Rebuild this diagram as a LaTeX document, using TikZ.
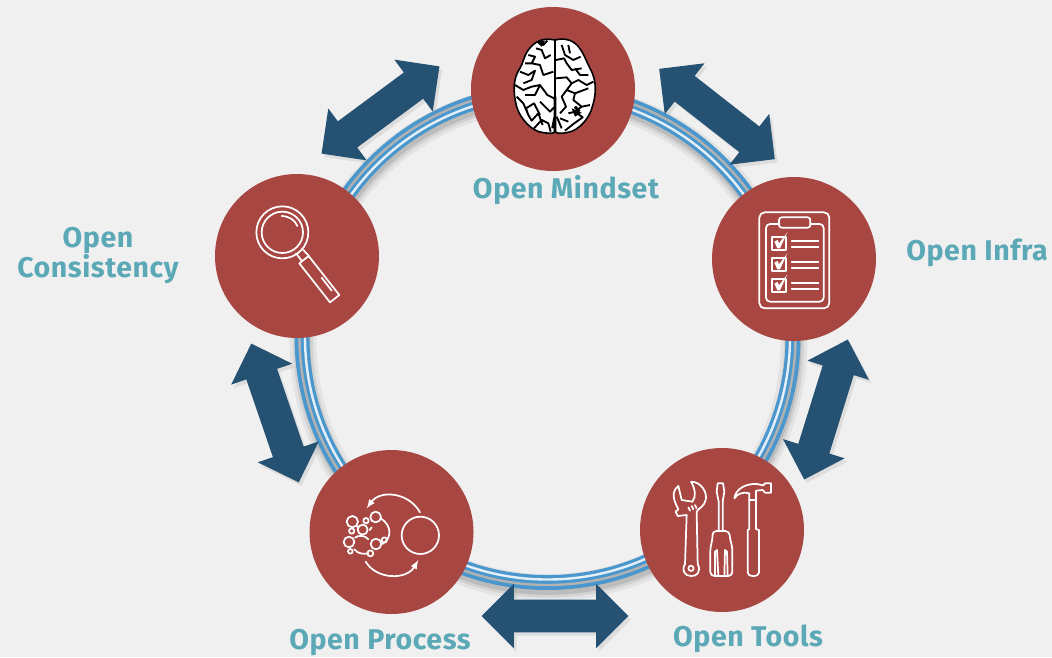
\documentclass[tikz,border=0pt]{standalone}
\usepackage{fontspec}
\setmainfont{Fira Sans}[LetterSpace=2]
\usetikzlibrary{shapes.arrows,shadows}
\definecolor{bgcol}{HTML}{F0F0F0}
\definecolor{hubred}{HTML}{A84642}
\definecolor{arrowblue}{HTML}{255272}
\definecolor{ringblue}{HTML}{4A97CD}
\definecolor{labelteal}{HTML}{5BA8B6}
\tikzset{
	hub/.style={circle, fill=hubred, minimum size=123pt, inner sep=0pt},
	swap/.style={double arrow, fill=arrowblue, inner xsep=0pt, inner ysep=12pt,
		double arrow head extend=12pt, minimum height=110pt,
		drop shadow={shadow xshift=2pt, shadow yshift=-2.5pt, opacity=0.16}},
	label/.style={text=labelteal, font=\fontsize{21.4}{22.5}\selectfont\bfseries, align=center},
	icon/.style={draw=white, line width=1.3pt, line join=round, line cap=round},
}
\begin{document}
\begin{tikzpicture}[x=0.75pt, y=-0.75pt]
	\useasboundingbox (0,0) rectangle (1052,657);
	\fill[bgcol] (0,0) rectangle (1052,657);

	% ring
	\coordinate (ringc) at (547.5,337);
	\foreach \wd/\op in {20pt/0.05, 15pt/0.07, 11pt/0.1}
		\draw[black, opacity=\op, line width=\wd] ([shift={(1,5)}]ringc) circle[radius=245.5];
	\draw[ringblue, line width=11.2pt] (ringc) circle[radius=245.5];
	\draw[white!85!ringblue, line width=1.8pt] (ringc) circle[radius=242.5];
	\draw[gray!60, line width=1.8pt] (ringc) circle[radius=248];

	% hubs
	\foreach \name/\x/\y in {mindset/553/89, consistency/297/256, infra/794/259, tools/722/530, process/391.5/532}
		\node[hub] (\name) at (\x,\y) {};

	% arrows
	\foreach \name/\x/\y/\ang in {swapa/380.5/110/36.5, swapb/717/114/-38, swapc/826/409.5/72.7, swapd/275/413/108.9, swape/555/616/0}
		\node[swap, rotate=\ang] (\name) at (\x,\y) {};

	% labels
	\node[label] (lmindset) at (566,190.5) {Open Mindset};
	\node[label] (linfra) at (977,252.5) {Open Infra};
	\node[label] (lconsistency) at (98,256) {Open\\Consistency};
	\node[label] (lprocess) at (380,643) {Open Process};
	\node[label] (ltools) at (748,639) {Open Tools};

	% brain
	\begin{scope}[shift={(460,0)}, scale=1/3]
		\filldraw[fill=white, draw=black, line width=1.2pt]
			(285,120) .. controls (250,112) and (222,125) .. (205,150)
			.. controls (190,170) and (190,190) .. (178,208)
			.. controls (160,235) and (158,275) .. (170,320)
			.. controls (180,355) and (215,395) .. (250,398)
			.. controls (268,400) and (280,402) .. (285,395)
			.. controls (292,402) and (305,400) .. (320,398)
			.. controls (360,392) and (390,350) .. (397,320)
			.. controls (410,280) and (410,240) .. (390,205)
			.. controls (375,175) and (365,145) .. (345,130)
			.. controls (325,115) and (305,115) .. (285,120) -- cycle;
		\draw[black, line width=1.4pt, line join=round]
			(285,120) -- (285,300)
			(232,125) -- (250,135) -- (262,122)
			(228,145) -- (245,150) -- (255,175) -- (272,165)
			(205,165) -- (225,170) -- (215,190) -- (195,190)
			(215,190) -- (240,195) -- (250,225) -- (280,215)
			(180,215) -- (205,225) -- (225,212) -- (215,240) -- (190,250)
			(165,255) -- (190,270) -- (215,260) -- (240,255) -- (262,285) -- (282,295)
			(240,255) -- (225,285) -- (195,285)
			(170,290) -- (190,310) -- (205,345) -- (198,325) -- (222,310) -- (240,345)
			(240,305) -- (270,335) -- (282,322)
			(205,345) -- (215,362) -- (235,340) -- (248,375)
			(222,385) -- (245,360) -- (265,370) -- (272,395)
			(305,135) -- (315,165) -- (340,180) -- (362,170)
			(325,135) -- (330,160)
			(288,180) -- (312,175) -- (320,190) -- (335,210) -- (365,205)
			(345,205) -- (360,225) -- (385,225)
			(288,235) -- (320,232) -- (335,250) -- (355,240) -- (380,255) -- (400,245)
			(335,250) -- (320,270) -- (345,280) -- (385,265)
			(320,270) -- (305,290) -- (318,320) -- (300,340)
			(345,280) -- (340,300) -- (365,320) -- (345,335) -- (325,340)
			(365,320) -- (390,315)
			(345,335) -- (368,352) -- (340,372) -- (315,392)
			(300,355) -- (325,365)
			(290,350) -- (305,385);
		\draw[black, line width=2.2pt] (285,290) -- (285,398) (345,320) -- (358,335) (240,120) -- (250,135) (285,350) -- (278,385);
		\fill[black] (335,325) -- (365,338) -- (345,350) -- cycle;
		\fill[black] (228,125) -- (255,122) -- (245,140) -- cycle;
	\end{scope}

	% magnifier
	\begin{scope}[shift={(210,170)}, scale=1/3]
		\draw[icon] (217,187) circle[radius=78] (217,187) circle[radius=62];
		\draw[icon] (215,138) .. controls (238,139) and (255,150) .. (262,168);
		\draw[icon] (258,250) -- (275,272) (280,240) -- (297,258);
		\draw[icon] (268,280) -- (296,258) -- (388,375) -- (360,397) -- cycle;
		\draw[icon] (335,323) -- (365,362);
	\end{scope}

	% clipboard
	\begin{scope}[shift={(705,185)}, scale=1/3]
		\draw[icon, rounded corners=4pt] (163,82) rectangle (373,370);
		\draw[icon, rounded corners=3pt] (183,117) rectangle (356,350);
		\draw[icon, fill=hubred, rounded corners=2pt] (222,97) rectangle (316,128);
		\foreach \dy in {0,63,126} {
			\draw[icon] (200,155+\dy) rectangle (242,195+\dy);
			\fill[hubred] (205,165+\dy) rectangle (237,185+\dy);
			\fill[white] (208,170+\dy) -- (218,165+\dy) -- (222,175+\dy) -- (247,142+\dy) -- (225,190+\dy) -- (217,190+\dy) -- cycle;
			\draw[icon] (260,167+\dy) -- (340,167+\dy) (260,185+\dy) -- (340,185+\dy);
		}
	\end{scope}

	% tools
	\begin{scope}[shift={(635,450)}, scale=1/3]
		\draw[icon] (150,342) -- (155,195) -- (128,198) -- (122,185) -- (130,178)
			.. controls (115,150) and (108,125) .. (130,108)
			-- (140,150) -- (172,155)
			.. controls (185,140) and (180,115) .. (168,95)
			.. controls (200,95) and (218,130) .. (212,150)
			.. controls (208,170) and (190,175) .. (185,185)
			-- (188,342)
			.. controls (200,365) and (185,380) .. (168,378)
			.. controls (150,378) and (138,362) .. (150,342) -- cycle;
		\draw[icon] (168,355) circle[radius=8];
		\draw[icon] (160,172) -- (165,182) (170,168) -- (175,178) (180,165) -- (185,175);
		\draw[icon] (251,242) -- (251,155) -- (245,125) -- (248,100) -- (264,100) -- (268,125) -- (263,155) -- (263,242);
		\draw[icon, rounded corners=3pt] (232,243) -- (283,243) -- (285,268) -- (292,290) -- (292,378) -- (226,378) -- (226,290) -- (233,268) -- cycle;
		\draw[icon] (240,378) -- (240,305) -- (246,300) -- (250,378) (268,378) -- (270,300) -- (276,305) -- (278,378);
		\draw[icon] (298,145) .. controls (302,115) and (335,100) .. (365,102)
			-- (385,106) -- (390,100) -- (408,100) -- (408,128) -- (390,128) -- (383,120)
			-- (363,122) -- (363,237) -- (372,240) -- (372,368)
			.. controls (372,382) and (338,382) .. (338,368)
			-- (338,240) -- (343,237) -- (343,130) .. controls (325,125) and (308,130) .. (298,145) -- cycle;
		\draw[icon] (343,150) -- (363,150);
	\end{scope}

	% bubbles
	\begin{scope}[shift={(305,450)}, scale=1/3]
		\foreach \cx/\cy/\r in {142/215/17, 183/212/8, 212/201/16, 173/239/15, 140/243/8, 132/276/16, 213/282/16, 238/270/8, 136/304/7, 196/310/9, 346/256/56}
			\draw[icon] (\cx,\cy) circle[radius=\r];
		\draw[icon] (228,206) .. controls (260,225) and (262,265) .. (232,282)
			(194,240) -- (200,232)
			(150,263) .. controls (160,255) and (180,255) .. (190,268)
			(148,298) .. controls (160,312) and (175,313) .. (190,310)
			(155,228) -- (160,232);
		\draw[icon, -latex] (345,187) .. controls (310,125) and (225,120) .. (185,175);
		\draw[icon, -latex] (182,335) .. controls (215,390) and (305,390) .. (340,330);
	\end{scope}
\end{tikzpicture}
\end{document}
